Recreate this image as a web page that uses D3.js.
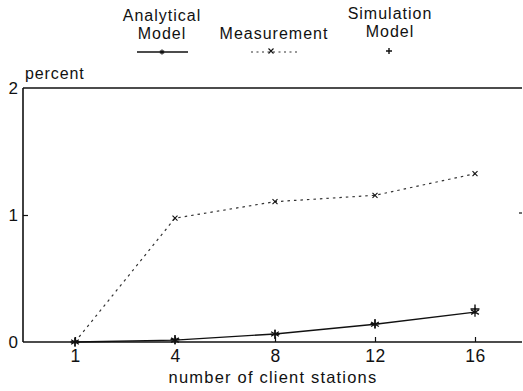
<!DOCTYPE html>
<html>
<head>
<meta charset="utf-8">
<script src="https://cdn.jsdelivr.net/npm/d3@7"></script>
<style>
  html, body { margin: 0; padding: 0; background: #fff; }
  svg text { font-family: "Liberation Sans", Arial, sans-serif; fill: #111; }
</style>
</head>
<body>
<svg id="chart" width="523" height="391"></svg>
<script>
// Number of client stations on the x axis
const categories = ["1", "4", "8", "12", "16"];
// Percent values per model
const analytical  = [0, 0.015, 0.063, 0.14, 0.235];
const measurement = [0, 0.975, 1.105, 1.155, 1.325];
const simulation  = [0, 0.02, 0.06, 0.145, 0.26];
const yTicks = [0, 1, 2];

const svg = d3.select("#chart");
const plotLeft = 23, plotRight = 522, plotTop = 88, plotBottom = 342;

const x = d3.scalePoint().domain(categories).range([75, 475]);
const y = d3.scaleLinear().domain([0, 2]).range([plotBottom, plotTop]);

const ink = "#111";
const font = "Liberation Sans, Arial, sans-serif";

// Frame: left, top and bottom lines
svg.append("line").attr("x1", plotLeft).attr("x2", plotLeft).attr("y1", plotTop).attr("y2", plotBottom)
  .attr("stroke", ink).attr("stroke-width", 1.6);
svg.append("line").attr("x1", plotLeft).attr("x2", plotRight).attr("y1", plotTop).attr("y2", plotTop)
  .attr("stroke", ink).attr("stroke-width", 1.4);

// x axis along the bottom, ticks pointing up into the plot
const xAxis = d3.axisBottom(x).tickSize(-5).tickPadding(8);
const gx = svg.append("g").attr("transform", `translate(0,${plotBottom})`).call(xAxis);
gx.select(".domain").attr("d", `M${plotLeft},0H${plotRight}`).attr("stroke", ink).attr("stroke-width", 1.6);
gx.selectAll(".tick line").attr("stroke", ink).attr("stroke-width", 1.2);
gx.selectAll(".tick text").attr("font-size", 17.5).attr("letter-spacing", 0.5)
  .attr("font-family", font).attr("fill", ink);

// y axis on the left, ticks pointing into the plot
const yAxis = d3.axisLeft(y).tickValues(yTicks).tickFormat(d3.format("d")).tickSize(-5).tickPadding(4);
const gy = svg.append("g").attr("transform", `translate(${plotLeft},0)`).call(yAxis);
gy.select(".domain").remove();
gy.selectAll(".tick line").attr("stroke", ink).attr("stroke-width", 1.2)
  .attr("display", d => (d === 1 ? null : "none"));
gy.selectAll(".tick text").attr("font-size", 17).attr("x", -5)
  .attr("font-family", font).attr("fill", ink);

// Right-side tick at 1
svg.append("line").attr("x1", plotRight - 3).attr("x2", plotRight).attr("y1", y(1) - 2).attr("y2", y(1) - 2)
  .attr("stroke", ink).attr("stroke-width", 1.2);

// Axis titles
svg.append("text").attr("x", 25).attr("y", 79).attr("font-size", 16).attr("letter-spacing", 0.9)
  .text("percent");
svg.append("text").attr("x", 273).attr("y", 383).attr("text-anchor", "middle")
  .attr("font-size", 16.5).attr("letter-spacing", 1.2).text("number of client stations");

// Markers
function asterisk(g, cx, cy, r) {
  const p = d3.path();
  p.moveTo(cx, cy - r); p.lineTo(cx, cy + r);
  p.moveTo(cx - r * 0.87, cy - r * 0.5); p.lineTo(cx + r * 0.87, cy + r * 0.5);
  p.moveTo(cx - r * 0.87, cy + r * 0.5); p.lineTo(cx + r * 0.87, cy - r * 0.5);
  g.append("path").attr("d", p.toString()).attr("stroke", ink).attr("stroke-width", 1.3).attr("fill", "none");
}
function cross(g, cx, cy, r) {
  const p = d3.path();
  p.moveTo(cx - r, cy - r); p.lineTo(cx + r, cy + r);
  p.moveTo(cx - r, cy + r); p.lineTo(cx + r, cy - r);
  g.append("path").attr("d", p.toString()).attr("stroke", ink).attr("stroke-width", 1.1).attr("fill", "none");
}
function plus(g, cx, cy, r) {
  const p = d3.path();
  p.moveTo(cx, cy - r); p.lineTo(cx, cy + r);
  p.moveTo(cx - r, cy); p.lineTo(cx + r, cy);
  g.append("path").attr("d", p.toString()).attr("stroke", ink).attr("stroke-width", 1.4).attr("fill", "none");
}

const line = d3.line().x((d, i) => x(categories[i])).y(d => y(d));

// Measurement: dotted line with x markers
svg.append("path").datum(measurement).attr("d", line).attr("fill", "none")
  .attr("stroke", "#333").attr("stroke-width", 1.2).attr("stroke-dasharray", "2.5,4");
const gm = svg.append("g");
measurement.forEach((v, i) => { if (i > 0) cross(gm, x(categories[i]), y(v), 2.5); });

// Analytical model: solid line with asterisks
svg.append("path").datum(analytical).attr("d", line).attr("fill", "none")
  .attr("stroke", ink).attr("stroke-width", 1.4);
const ga = svg.append("g");
analytical.forEach((v, i) => asterisk(ga, x(categories[i]), y(v), 4.5));

// Simulation model: plus markers
const gs = svg.append("g");
simulation.forEach((v, i) => plus(gs, x(categories[i]), y(v), 4.5));

// Legend
const lg = svg.append("g").attr("font-size", 16).attr("letter-spacing", 1.0);
lg.append("text").attr("x", 162).attr("y", 21).attr("text-anchor", "middle").text("Analytical");
lg.append("text").attr("x", 162).attr("y", 39).attr("text-anchor", "middle").text("Model");
lg.append("line").attr("x1", 137).attr("x2", 188).attr("y1", 52).attr("y2", 52).attr("stroke", ink).attr("stroke-width", 1.4);
asterisk(lg, 162, 52, 2.5);

lg.append("text").attr("x", 274).attr("y", 39).attr("text-anchor", "middle").text("Measurement");
lg.append("line").attr("x1", 251).attr("x2", 297).attr("y1", 52).attr("y2", 52).attr("stroke", "#333")
  .attr("stroke-width", 1.1).attr("stroke-dasharray", "2,3.5");
cross(lg, 271, 51, 2.5);

lg.append("text").attr("x", 390).attr("y", 19).attr("text-anchor", "middle").text("Simulation");
lg.append("text").attr("x", 390).attr("y", 37).attr("text-anchor", "middle").text("Model");
plus(lg, 389, 51, 3);
</script>
</body>
</html>
